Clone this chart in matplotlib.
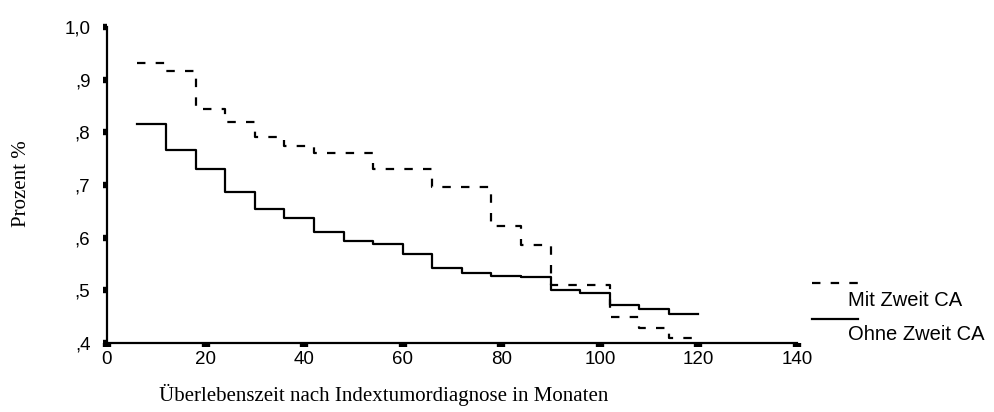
import matplotlib
matplotlib.use("Agg")
import matplotlib.pyplot as plt
from matplotlib.lines import Line2D

# ---- data ----
months = [6, 12, 18, 24, 30, 36, 42, 48, 54, 60, 66, 72, 78, 84, 90, 96, 102, 108, 114, 120]
mit_zweit_ca = [0.932, 0.916, 0.844, 0.819, 0.791, 0.774, 0.760, 0.760, 0.730, 0.730,
                0.697, 0.697, 0.622, 0.587, 0.510, 0.510, 0.449, 0.429, 0.410, 0.410]
ohne_zweit_ca = [0.815, 0.767, 0.731, 0.686, 0.654, 0.638, 0.611, 0.594, 0.588, 0.569,
                 0.543, 0.533, 0.528, 0.526, 0.500, 0.494, 0.472, 0.464, 0.456, 0.456]
x_ticks = [0, 20, 40, 60, 80, 100, 120, 140]
y_ticks = [0.4, 0.5, 0.6, 0.7, 0.8, 0.9, 1.0]
y_tick_labels = [",4", ",5", ",6", ",7", ",8", ",9", "1,0"]
series_labels = ["Mit Zweit CA", "Ohne Zweit CA"]
x_label = "Überlebenszeit nach Indextumordiagnose in Monaten"
y_label = "Prozent %"

W, H = 994, 412
fig = plt.figure(figsize=(W / 100, H / 100), dpi=100)
ax = fig.add_axes([107 / W, 1 - 343 / H, (797 - 107) / W, (343 - 27) / H])

ax.step(months, mit_zweit_ca, where="post", color="black", lw=1.6,
        linestyle=(0, (3.8, 4.6)))
ax.step(months, ohne_zweit_ca, where="post", color="black", lw=1.6)

ax.set_xlim(0, 140)
ax.set_ylim(0.4, 1.0)
for s in ["top", "right"]:
    ax.spines[s].set_visible(False)
for s in ["left", "bottom"]:
    ax.spines[s].set_linewidth(1.6)

ax.set_xticks(x_ticks)
ax.set_xticklabels([str(t) for t in x_ticks], fontfamily="Liberation Sans", fontsize=13.5)
ax.set_yticks(y_ticks)
ax.set_yticklabels(y_tick_labels, fontfamily="Liberation Sans", fontsize=13.5)
ax.tick_params(axis="x", direction="out", length=2.6, width=6, pad=3)
ax.tick_params(axis="y", direction="out", length=3.0, width=4.6, pad=9)

fig.text(384 / W, 1 - 395 / H, x_label, ha="center", va="center",
         fontfamily="Liberation Serif", fontsize=15)
fig.text(21 / W, 1 - 184 / H, y_label, ha="center", va="center", rotation=90,
         fontfamily="Liberation Serif", fontsize=15)

# legend drawn manually: sample line above-left of each label
fig.add_artist(Line2D([812 / W, 858 / W], [1 - 283 / H] * 2, color="black", lw=1.6,
                      linestyle=(0, (3.8, 4.6)), transform=fig.transFigure))
fig.text(848 / W, 1 - 300 / H, series_labels[0], ha="left", va="center",
         fontfamily="Liberation Sans", fontsize=14.5)
fig.add_artist(Line2D([812 / W, 858 / W], [1 - 319 / H] * 2, color="black", lw=1.6,
                      transform=fig.transFigure))
fig.text(848 / W, 1 - 335 / H, series_labels[1], ha="left", va="center",
         fontfamily="Liberation Sans", fontsize=14.5)

fig.savefig("out.png", dpi=100)
